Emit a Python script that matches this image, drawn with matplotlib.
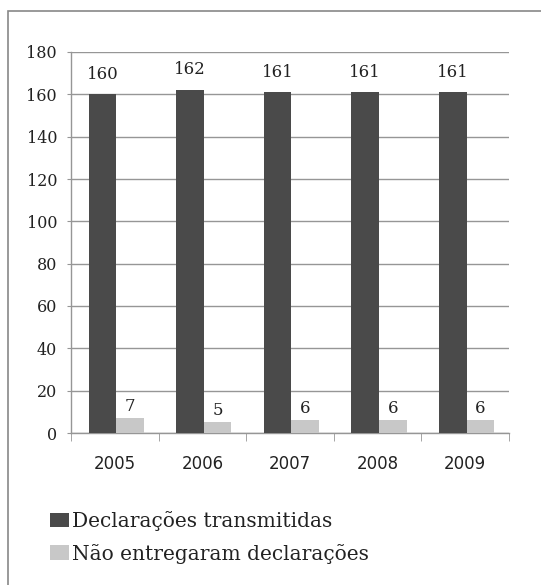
import matplotlib
matplotlib.use("Agg")
import matplotlib.pyplot as plt
from matplotlib.patches import Rectangle
import numpy as np

years = ["2005", "2006", "2007", "2008", "2009"]
transmitidas = [160, 162, 161, 161, 161]
nao_entregaram = [7, 5, 6, 6, 6]
series_names = ["Declarações transmitidas", "Não entregaram declarações"]

dark = "#4a4a4a"
light = "#c8c8c8"
grid = "#969696"

fig = plt.figure(figsize=(5.41, 5.85), dpi=100)
ax = fig.add_axes([71/541, 1-433/585, (509-71)/541, (433-52)/585])

x = np.arange(len(years))
w = 0.315
b1 = ax.bar(x - w + 0.015, transmitidas, w, align="edge", color=dark, label=series_names[0], zorder=3)
b2 = ax.bar(x + 0.015, nao_entregaram, w, align="edge", color=light, label=series_names[1], zorder=3)

serif = "DejaVu Serif"
for rect, v in zip(b1, transmitidas):
    ax.text(rect.get_x() + rect.get_width()/2, v + 5.5, str(v), ha="center", va="bottom",
            fontsize=12, family=serif, color="#222222")
for rect, v in zip(b2, nao_entregaram):
    ax.text(rect.get_x() + rect.get_width()/2, v + 1.5, str(v), ha="center", va="bottom",
            fontsize=12, family=serif, color="#222222")

ax.set_xlim(-0.5, 4.5)
ax.set_ylim(0, 180)
ax.set_yticks(np.arange(0, 181, 20))
ax.set_yticklabels([str(v) for v in range(0, 181, 20)], family=serif, fontsize=11.5, color="#222222")
ax.set_xticks(x)
ax.set_xticklabels(years, fontsize=12, color="#222222")
ax.set_xticks(np.arange(-0.5, 5, 1), minor=True)
ax.tick_params(axis="x", which="major", length=0, pad=16)
ax.tick_params(axis="x", which="minor", length=6, color=grid, direction="out")
ax.tick_params(axis="y", length=3, color=grid, pad=7)

ax.yaxis.grid(True, color=grid, linewidth=1, zorder=0)
ax.set_axisbelow(True)
for s in ["top", "right"]:
    ax.spines[s].set_visible(False)
for s in ["left", "bottom"]:
    ax.spines[s].set_color(grid)
    ax.spines[s].set_linewidth(1)

leg = fig.legend(handles=[b1, b2], labels=series_names, loc="upper left",
                 bbox_to_anchor=(42/541, 1-503/585), frameon=False,
                 prop={"family": serif, "size": 14.5}, handlelength=0.95, handleheight=0.75,
                 handletextpad=0.15, labelspacing=0.62, borderaxespad=0)
for t in leg.get_texts():
    t.set_color("#222222")

fig.patches.append(Rectangle((8/541, -0.1), 1.2, 1 - 11/585 + 0.1, transform=fig.transFigure,
                             fill=False, edgecolor="#888888", linewidth=1.2))

fig.savefig("out.png", dpi=100)
